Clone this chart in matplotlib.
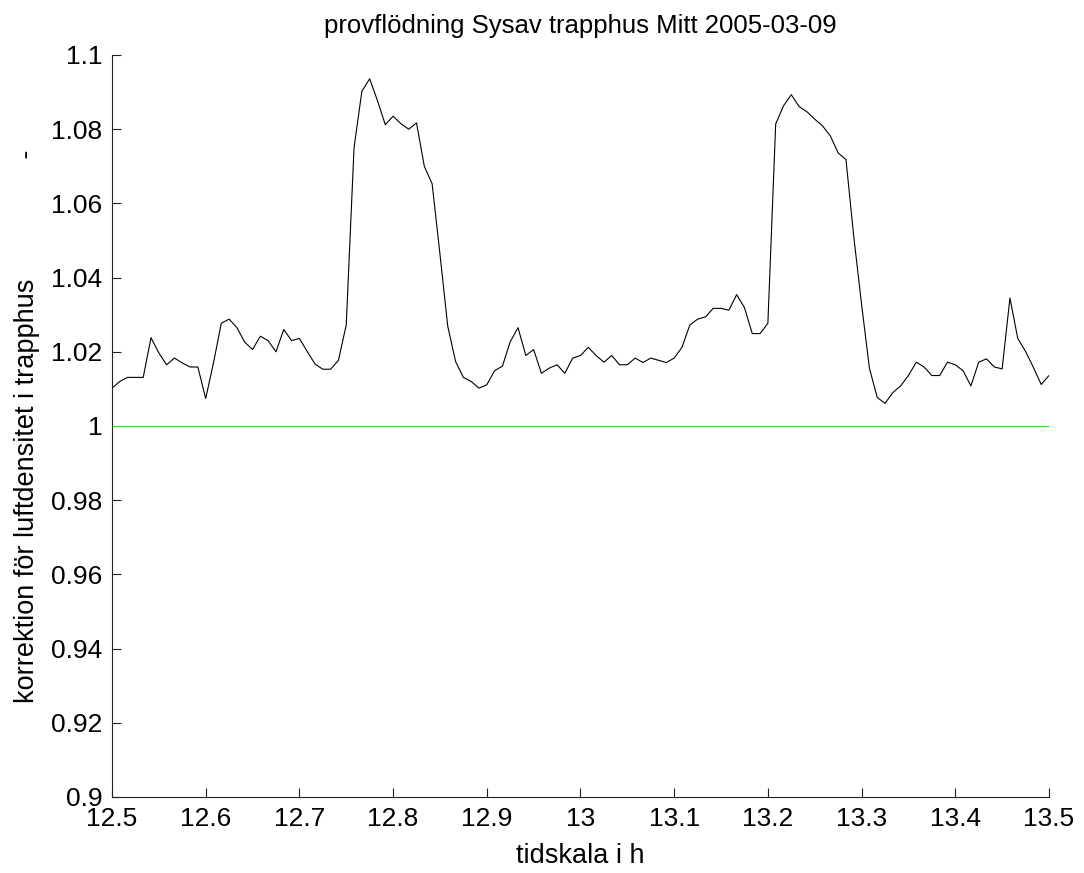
import numpy as np
import matplotlib
matplotlib.use('Agg')
import matplotlib.pyplot as plt
from matplotlib.ticker import FuncFormatter

plt.rcParams['font.family'] = ['Liberation Sans', 'DejaVu Sans']

# tid i timmar, ett värde var 30:e sekund
t_start = 12.5
t_step = 1 / 120
korrektion = [
    1.0102, 1.0120, 1.0131, 1.0131, 1.0131, 1.0238, 1.0197, 1.0165, 1.0183, 1.0170,
    1.0159, 1.0159, 1.0074, 1.0170, 1.0277, 1.0288, 1.0265, 1.0226, 1.0206, 1.0242,
    1.0230, 1.0200, 1.0260, 1.0230, 1.0236, 1.0201, 1.0167, 1.0153, 1.0153, 1.0177,
    1.0272, 1.0750, 1.0902, 1.0936, 1.0877, 1.0812, 1.0835, 1.0815, 1.0800, 1.0817,
    1.0700, 1.0653, 1.0464, 1.0269, 1.0174, 1.0131, 1.0120, 1.0102, 1.0111, 1.0149,
    1.0161, 1.0227, 1.0265, 1.0190, 1.0206, 1.0142, 1.0156, 1.0165, 1.0142, 1.0183,
    1.0190, 1.0212, 1.0190, 1.0172, 1.0190, 1.0165, 1.0165, 1.0183, 1.0171, 1.0183,
    1.0177, 1.0171, 1.0183, 1.0212, 1.0272, 1.0288, 1.0294, 1.0317, 1.0317, 1.0312,
    1.0354, 1.0319, 1.0249, 1.0249, 1.0277, 1.0814, 1.0863, 1.0893, 1.0861, 1.0847,
    1.0827, 1.0809, 1.0782, 1.0736, 1.0718, 1.0510, 1.0328, 1.0156, 1.0077, 1.0061,
    1.0090, 1.0108, 1.0136, 1.0172, 1.0159, 1.0136, 1.0136, 1.0172, 1.0165, 1.0149,
    1.0108, 1.0172, 1.0181, 1.0159, 1.0154, 1.0345, 1.0236, 1.0201, 1.0158, 1.0112,
    1.0136,
]
tid = t_start + t_step * np.arange(len(korrektion))
referens = 1.0

fig = plt.figure(figsize=(10.84, 8.73), dpi=100)
ax = fig.add_axes([0.1033, 0.0871, 0.8644, 0.8499])

ax.plot(tid, korrektion, color='black', linewidth=0.8)
ax.plot([12.5, 13.5], [referens, referens], color='#00ff00', linewidth=0.8)

ax.set_xlim(12.5, 13.5)
ax.set_ylim(0.9, 1.1)
ax.set_xticks(np.arange(12.5, 13.51, 0.1))
ax.set_yticks(np.arange(0.9, 1.101, 0.02))
ax.xaxis.set_major_formatter(FuncFormatter(lambda v, p: f'{round(v, 2):g}'))
ax.yaxis.set_major_formatter(FuncFormatter(lambda v, p: f'{round(v, 2):g}'))

for side in ['top', 'right']:
    ax.spines[side].set_visible(False)
for side in ['left', 'bottom']:
    ax.spines[side].set_linewidth(0.8)
    ax.spines[side].set_color('#222222')
ax.tick_params(direction='in', length=6.5, width=0.8, labelsize=19,
               color='#222222')
ax.tick_params(axis='x', pad=7)
ax.tick_params(axis='y', pad=7)

ax.set_title('provflödning Sysav trapphus Mitt 2005-03-09', fontsize=18.5, pad=16)
ax.set_xlabel('tidskala i h', fontsize=19.5, labelpad=9)
ax.set_ylabel('korrektion för luftdensitet i trapphus' + ' ' * 16 + '-',
              fontsize=19.5, labelpad=8)

plt.savefig('out.png', dpi=100, facecolor='white')
plt.close()
